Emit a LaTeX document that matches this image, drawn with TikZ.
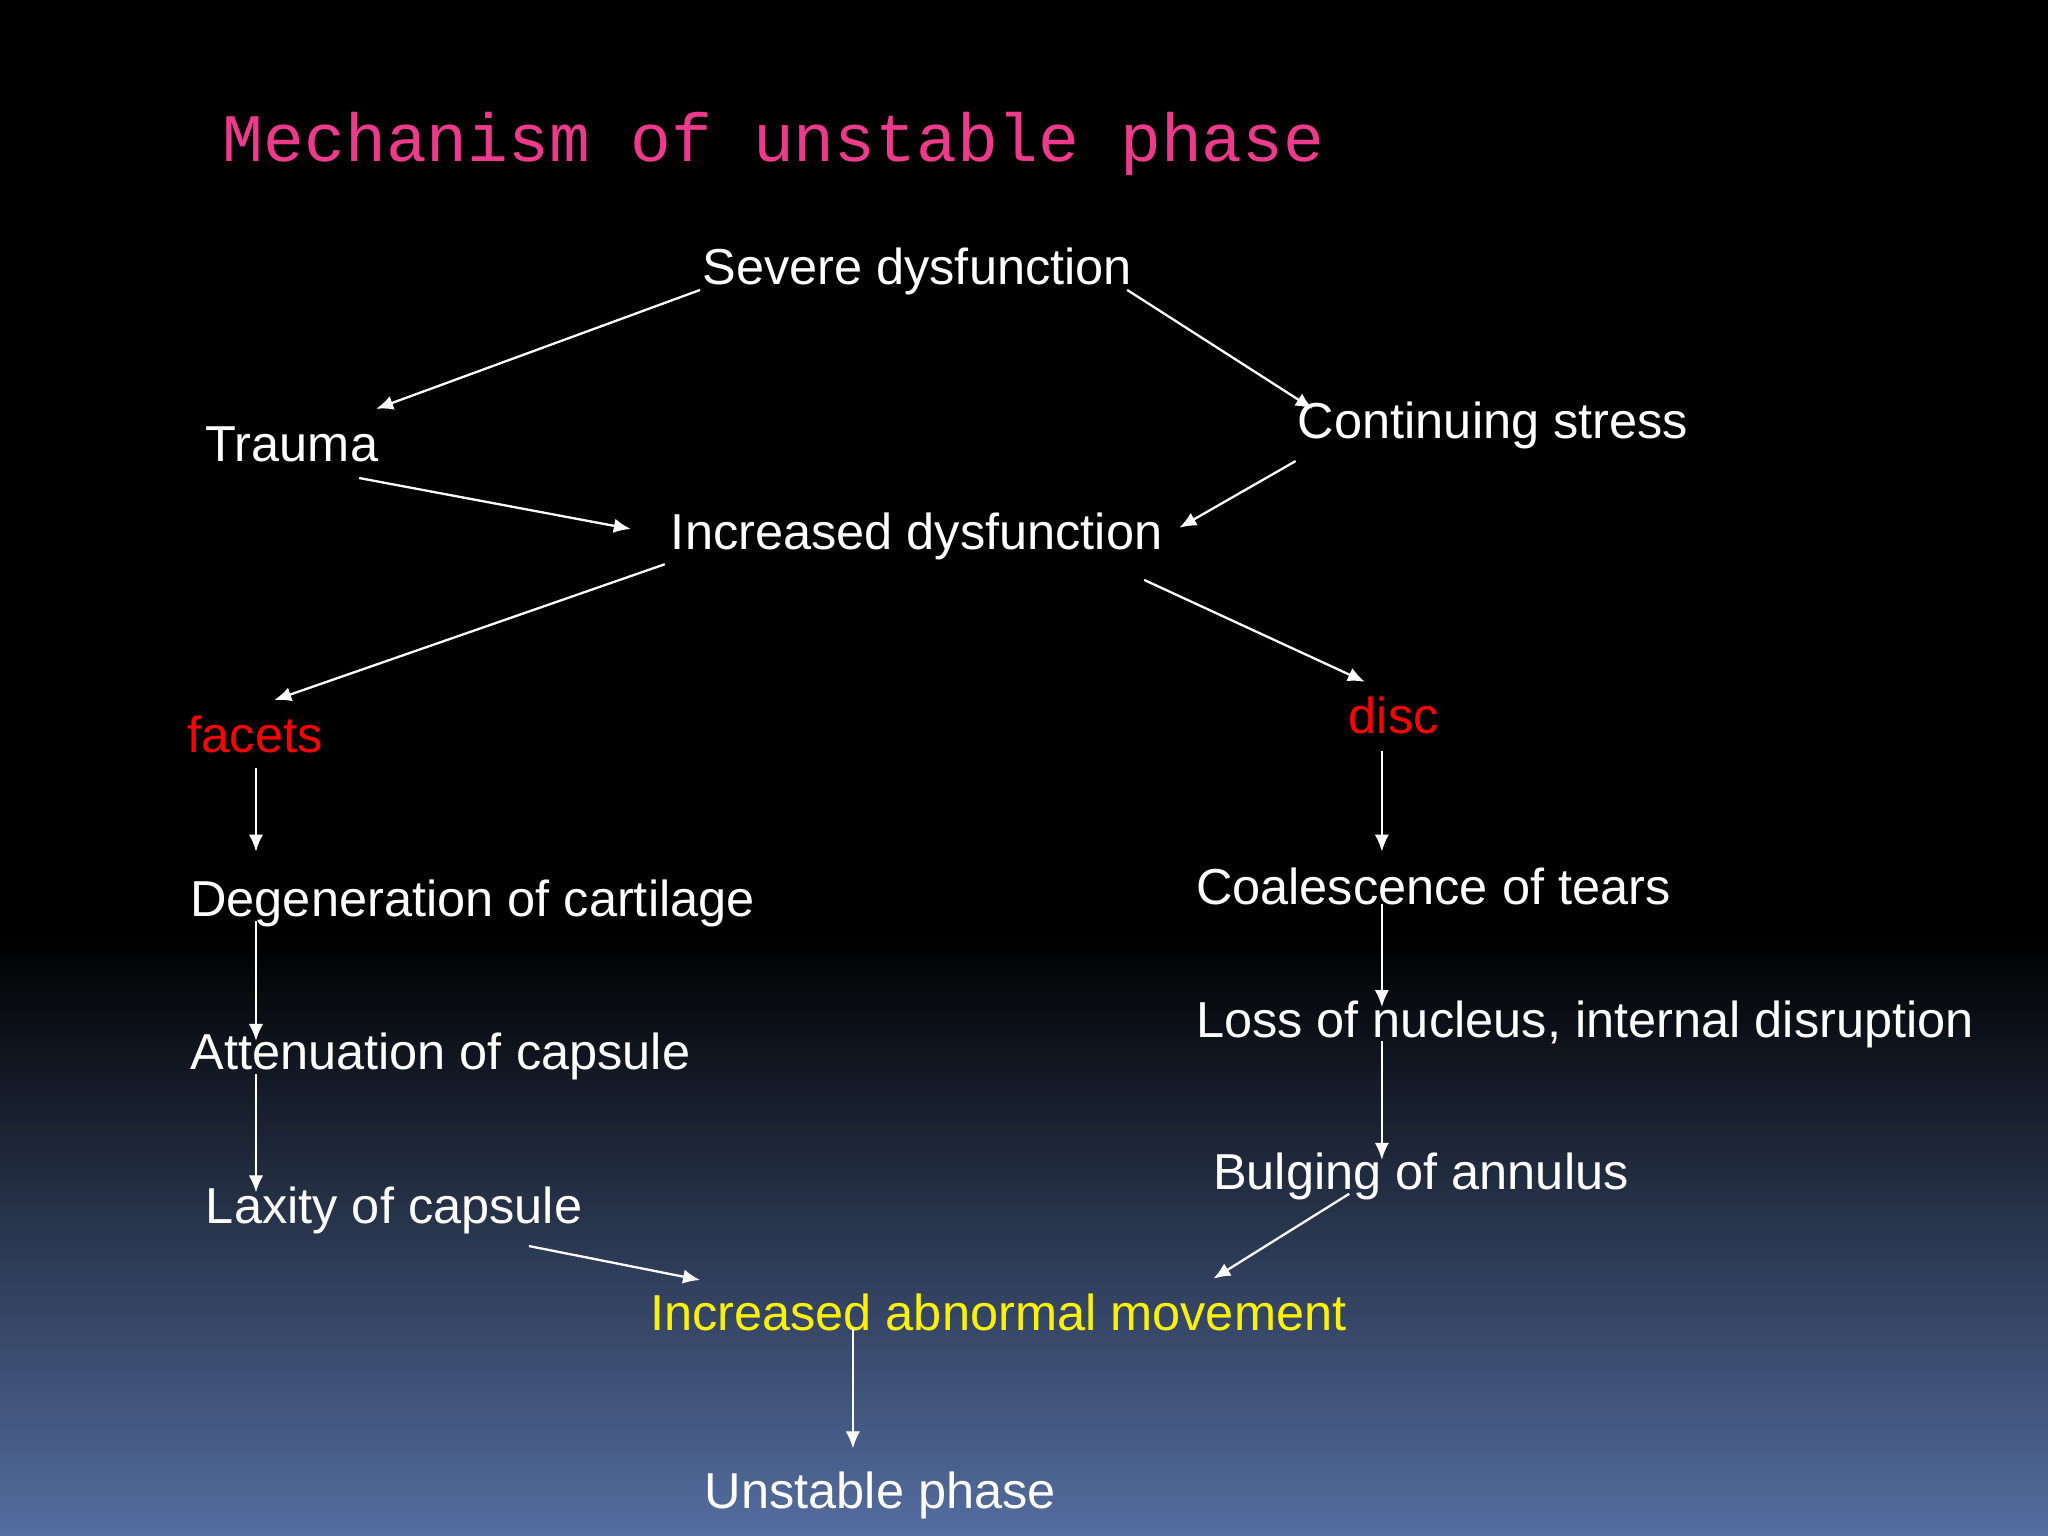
\documentclass[tikz,border=0pt]{standalone}
\usepackage{fontspec}
\setmainfont{Liberation Sans}
\newfontfamily\titlefont{Liberation Mono}
\usetikzlibrary{arrows.meta}
\definecolor{slidebot}{RGB}{84,110,160}
\definecolor{titlepink}{RGB}{238,58,140}
\begin{document}
\begin{tikzpicture}[x=0.01cm,y=-0.01cm,
    box/.style={anchor=west,inner sep=0pt,text=white,font=\fontsize{11pt}{13pt}\selectfont},
    red box/.style={box,text=red},
    yellow box/.style={box,text=yellow},
    flow/.style={draw=white,line width=0.5pt,-{Latex[length=1.3mm,width=1.1mm]}}]
  % background
  \fill[black] (0,0) rectangle (1568,720);
  \shade[top color=black,bottom color=slidebot] (0,719) rectangle (1568,1176);
  \useasboundingbox (0,0) rectangle (1568,1176);
  % title
  \node[anchor=west,inner sep=0pt,text=titlepink,font=\titlefont\fontsize{14.8pt}{17pt}\selectfont] (title) at (170,110) {Mechanism of unstable phase};
  % nodes
  \node[box] (severe) at (537,208) {Severe dysfunction};
  \node[box] (trauma) at (157,340) {Trauma};
  \node[box] (stress) at (993,326) {Continuing stress};
  \node[box] (incr) at (513,411) {Increased dysfunction};
  \node[red box] (facets) at (143,562) {facets};
  \node[red box] (disc) at (1032,548) {disc};
  \node[box] (degen) at (145,692) {Degeneration of cartilage};
  \node[box] (coal) at (915,679) {Coalescence of tears};
  \node[box] (atten) at (145,809) {Attenuation of capsule};
  \node[box] (loss) at (915,784) {Loss of nucleus, internal disruption};
  \node[box] (laxity) at (157,927) {Laxity of capsule};
  \node[box] (bulge) at (928,901) {Bulging of annulus};
  \node[yellow box] (abnormal) at (497,1005) {Increased abnormal movement};
  \node[box] (unstable) at (539,1145) {Unstable phase};
  % arrow ends
  \coordinate (s1) at (536,222);  \coordinate (e1) at (288,313);
  \coordinate (s2) at (863,222);  \coordinate (e2) at (1005,313);
  \coordinate (s3) at (275,366);  \coordinate (e3) at (483,405);
  \coordinate (s4) at (992,353);  \coordinate (e4) at (903,404);
  \coordinate (s5) at (509,432);  \coordinate (e5) at (210,536);
  \coordinate (s6) at (876,444);  \coordinate (e6) at (1045,522);
  \coordinate (s7) at (196,588);  \coordinate (e7) at (196,652);
  \coordinate (s8) at (1058,575); \coordinate (e8) at (1058,652);
  \coordinate (s9) at (196,705);  \coordinate (e9) at (196,797);
  \coordinate (s10) at (1058,692); \coordinate (e10) at (1058,771);
  \coordinate (s11) at (196,822);  \coordinate (e11) at (196,913);
  \coordinate (s12) at (1058,797); \coordinate (e12) at (1058,888);
  \coordinate (s13) at (405,954);  \coordinate (e13) at (536,980);
  \coordinate (s14) at (1033,914); \coordinate (e14) at (929,979);
  \coordinate (s15) at (653,1017); \coordinate (e15) at (653,1109);
  % arrows
  \foreach \i in {1,...,15}
    \draw[flow] (s\i) -- (e\i);
\end{tikzpicture}
\end{document}
